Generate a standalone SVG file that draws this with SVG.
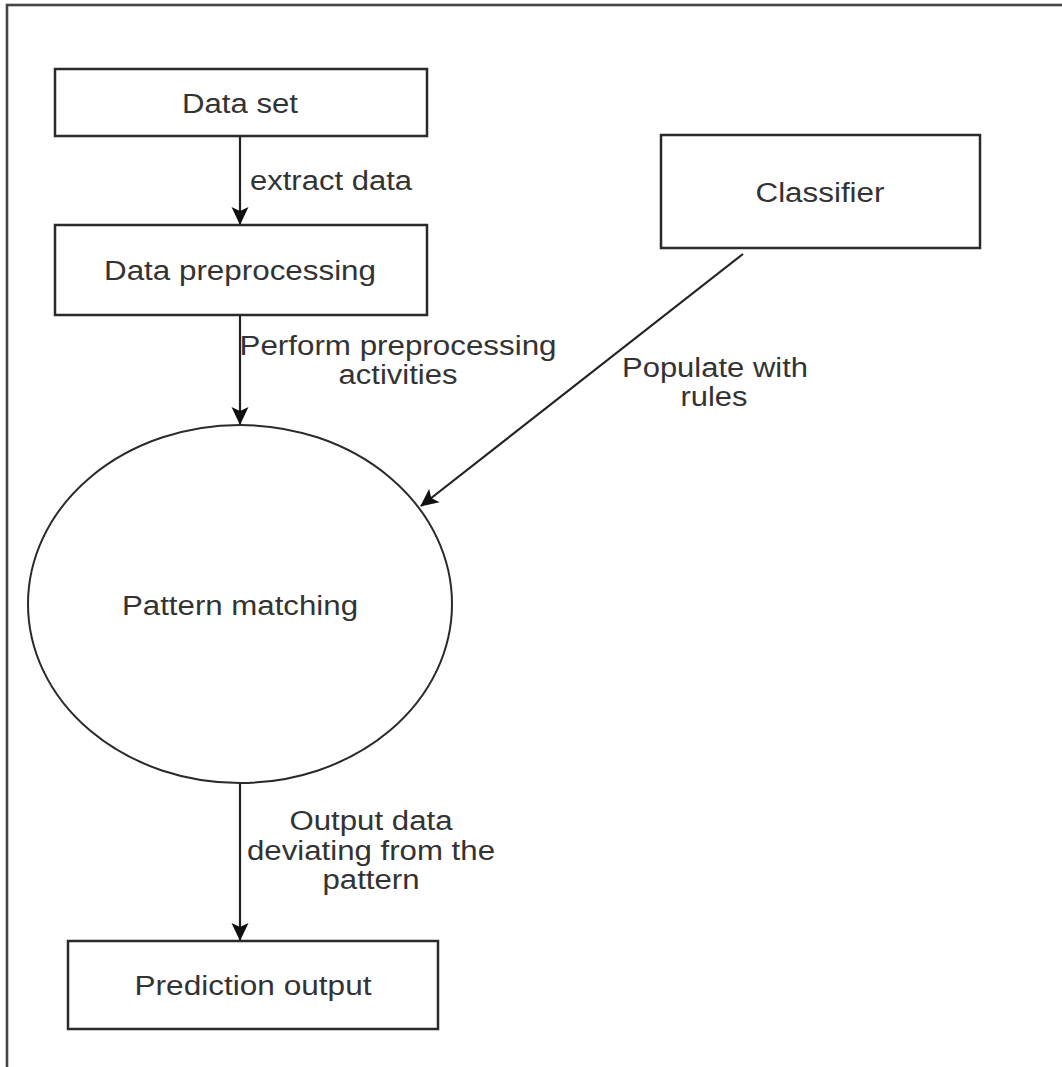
<svg xmlns="http://www.w3.org/2000/svg" width="1062" height="1067" viewBox="0 0 1062 1067">
  <defs>
    <marker id="arrow" markerUnits="userSpaceOnUse" markerWidth="18" markerHeight="18" viewBox="0 0 18 18" refX="17" refY="9" orient="auto">
      <path d="M0,0.5 L18,9 L0,17.5 L4,9 z" fill="#111"/>
    </marker>
    <style>
      .box { fill: #fff; stroke: #2a2a2a; stroke-width: 2.5; }
      .edge { fill: none; stroke: #222; stroke-width: 2.2; marker-end: url(#arrow); }
      .lbl { font-family: "Liberation Sans", Arial, sans-serif; font-size: 27px; fill: #333; text-anchor: middle; }
    </style>
  </defs>
  <rect width="1062" height="1067" fill="#fff"/>
  <!-- outer frame -->
  <rect x="7" y="5" width="1080" height="1090" fill="none" stroke="#444" stroke-width="2.6"/>

  <g id="edges">
    <line class="edge" x1="240" y1="137" x2="240" y2="224"/>
    <line class="edge" x1="240" y1="316" x2="240" y2="424"/>
    <line class="edge" x1="743" y1="254" x2="421" y2="506"/>
    <line class="edge" x1="240" y1="784" x2="240" y2="940"/>
    <text class="lbl" x="331" y="190" textLength="162" lengthAdjust="spacingAndGlyphs">extract data</text>
    <text class="lbl" x="398" y="355" textLength="317" lengthAdjust="spacingAndGlyphs">Perform preprocessing</text>
    <text class="lbl" x="398" y="384" textLength="119" lengthAdjust="spacingAndGlyphs">activities</text>
    <text class="lbl" x="715" y="377" textLength="186" lengthAdjust="spacingAndGlyphs">Populate with</text>
    <text class="lbl" x="714" y="406" textLength="67" lengthAdjust="spacingAndGlyphs">rules</text>
    <text class="lbl" x="371" y="830" textLength="163" lengthAdjust="spacingAndGlyphs">Output data</text>
    <text class="lbl" x="371" y="860" textLength="248" lengthAdjust="spacingAndGlyphs">deviating from the</text>
    <text class="lbl" x="371" y="889" textLength="97" lengthAdjust="spacingAndGlyphs">pattern</text>
  </g>

  <g id="data-set">
    <rect class="box" x="55" y="69" width="372" height="67"/>
    <text class="lbl" x="240" y="113" textLength="116" lengthAdjust="spacingAndGlyphs">Data set</text>
  </g>

  <g id="data-preprocessing">
    <rect class="box" x="55" y="225" width="372" height="90"/>
    <text class="lbl" x="240" y="280" textLength="272" lengthAdjust="spacingAndGlyphs">Data preprocessing</text>
  </g>

  <g id="classifier">
    <rect class="box" x="661" y="135" width="319" height="113"/>
    <text class="lbl" x="820" y="202" textLength="129" lengthAdjust="spacingAndGlyphs">Classifier</text>
  </g>

  <g id="pattern-matching">
    <ellipse cx="240" cy="604" rx="212" ry="179" fill="#fff" stroke="#2a2a2a" stroke-width="2"/>
    <text class="lbl" x="240" y="615" textLength="236" lengthAdjust="spacingAndGlyphs">Pattern matching</text>
  </g>

  <g id="prediction-output">
    <rect class="box" x="68" y="941" width="370" height="88"/>
    <text class="lbl" x="253" y="995" textLength="237" lengthAdjust="spacingAndGlyphs">Prediction output</text>
  </g>
</svg>
